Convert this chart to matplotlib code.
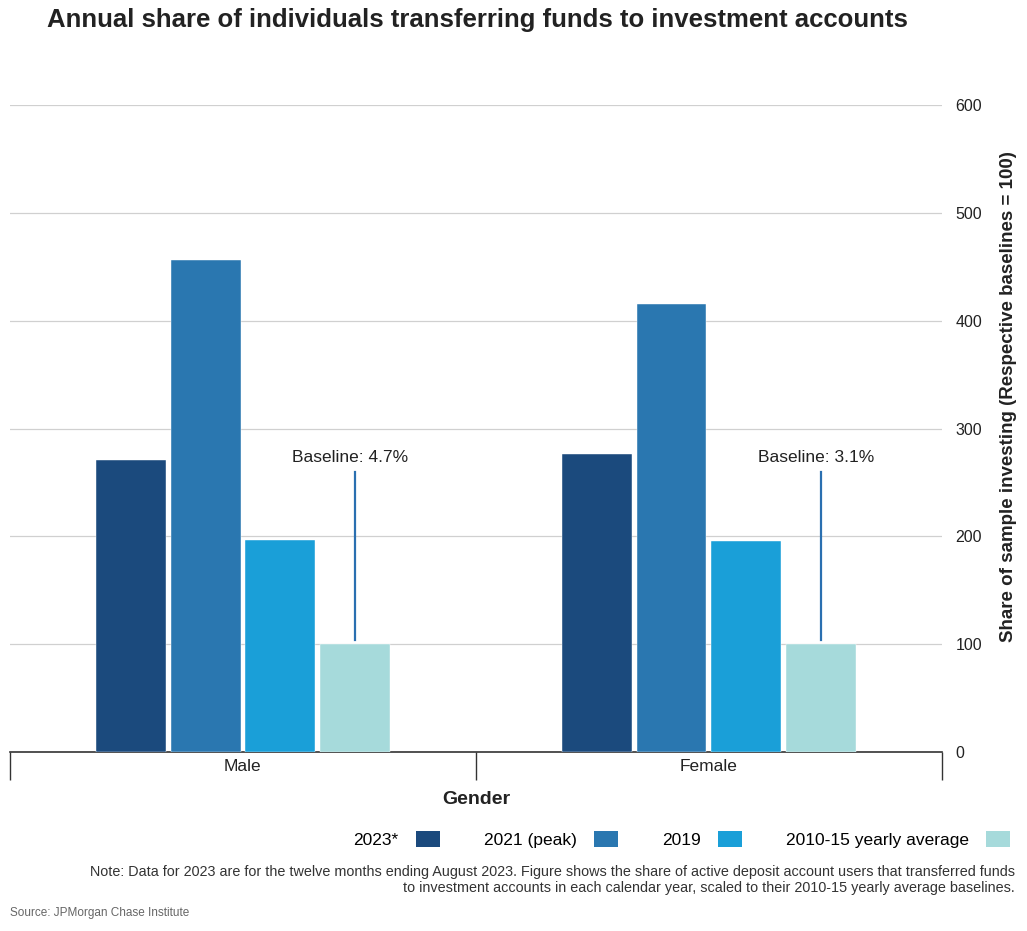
import numpy as np
import matplotlib
matplotlib.use('Agg')
import matplotlib.pyplot as plt
from matplotlib.patches import Patch

# layout follows the reference (y axis on the right, groups mirrored)
groups = ['Male', 'Female']
series = ['2023*', '2021 (peak)', '2019', '2010-15 yearly average']
values = {
    '2023*': [271, 276],
    '2021 (peak)': [456, 416],
    '2019': [197, 196],
    '2010-15 yearly average': [100, 100],
}
colors = ['#1b4a7d', '#2a77b0', '#1a9fd8', '#a6dadb']
baselines = ['Baseline: 4.7%', 'Baseline: 3.1%']
baseline_line_top = 260
yticks = [0, 100, 200, 300, 400, 500, 600]

plt.rcParams['font.family'] = ['Liberation Sans', 'DejaVu Sans']

fig = plt.figure(figsize=(10.27, 9.31), dpi=100)
ax = fig.add_axes([0.0097, 0.1923, 0.9073, 0.6947])

x = np.arange(len(groups))
slot = 0.16
width = 0.15
offsets = (np.arange(len(series)) - 1.5) * slot
for i, s in enumerate(series):
    ax.bar(x + offsets[i], values[s], width, color=colors[i], zorder=3,
           edgecolor='white', linewidth=0.3)

# baseline markers above the 2010-15 bars
for j, txt in enumerate(baselines):
    xb = x[j] + offsets[-1]
    ax.plot([xb, xb], [values[series[-1]][j] + 4, baseline_line_top],
            color='#2a6fb0', lw=1.6, zorder=4)
    ax.text(xb - 0.01, baseline_line_top + 6, txt, ha='center', va='bottom',
            fontsize=12.5, color='#222222')

ax.set_xlim(-0.5, 1.5)
ax.set_ylim(0, 600)
ax.yaxis.tick_right()
ax.yaxis.set_label_position('right')
ax.set_yticks(yticks)
ax.set_yticklabels([str(t) for t in yticks], fontsize=11.5, color='#222222')
ax.tick_params(axis='y', length=0, pad=10)
ax.grid(axis='y', color='#d0d0d0', lw=0.9, zorder=0)

ax.set_xticks(x)
ax.set_xticklabels(groups, fontsize=12.5, color='#222222')
ax.set_xticks([-0.5, 0.5, 1.5], minor=True)
ax.tick_params(axis='x', which='major', length=0, pad=5)
ax.tick_params(axis='x', which='minor', length=20, width=1, color='#333333')

for side in ['top', 'left', 'right']:
    ax.spines[side].set_visible(False)
ax.spines['bottom'].set_color('#333333')
ax.spines['bottom'].set_linewidth(1.2)

ax.set_ylabel('Share of sample investing (Respective baselines = 100)',
              fontsize=13.5, fontweight='bold', color='#222222')
ax.yaxis.set_label_coords(1.062, 0.55)
ax.set_xlabel('Gender', fontsize=14, fontweight='bold', color='#222222',
              labelpad=5)

handles = [Patch(facecolor=c) for c in colors]
fig.legend(handles, series, loc='center', bbox_to_anchor=(0.664, 0.098),
           ncol=4, frameon=False, markerfirst=False, fontsize=12.5,
           handlelength=1.4, handleheight=1.0, columnspacing=2.5,
           handletextpad=1.0)

fig.text(0.465, 0.978, 'Annual share of individuals transferring funds to investment accounts',
         ha='center', va='center', fontsize=18.5, fontweight='bold',
         color='#222222')

fig.text(0.988, 0.055,
         'Note: Data for 2023 are for the twelve months ending August 2023. Figure shows the share of active deposit account users that transferred funds\n'
         'to investment accounts in each calendar year, scaled to their 2010-15 yearly average baselines.',
         ha='right', va='center', multialignment='right', fontsize=10.4,
         color='#333333', linespacing=1.15)

fig.text(0.01, 0.019, 'Source: JPMorgan Chase Institute', ha='left', va='center',
         fontsize=8.5, color='#666666')

fig.savefig('out.png', dpi=100)
